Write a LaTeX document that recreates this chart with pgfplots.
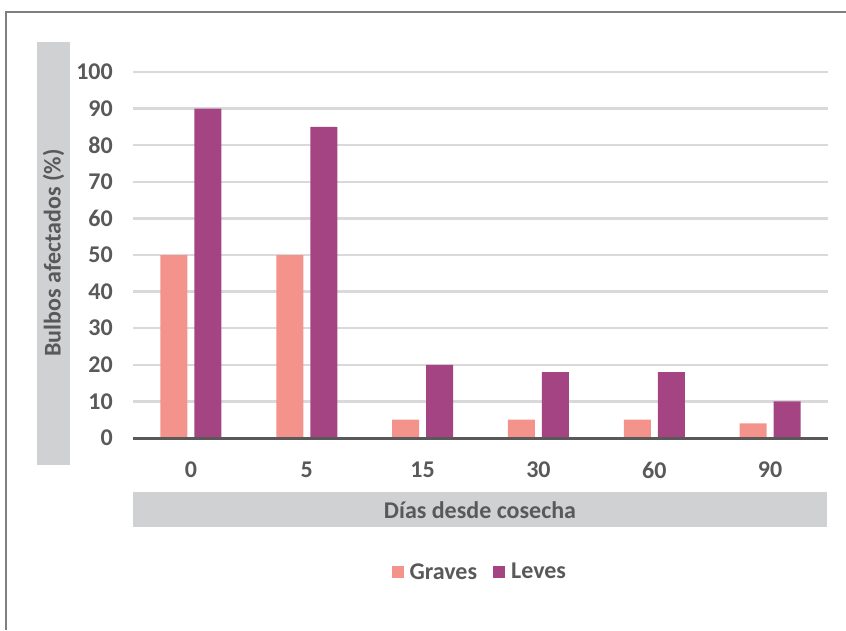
\documentclass[border=0pt]{standalone}
\usepackage{pgfplots}
\pgfplotsset{compat=1.18}
\usepackage{fontspec}
\setmainfont{Carlito}
\definecolor{graves}{HTML}{F4928C}
\definecolor{leves}{HTML}{A54483}
\definecolor{txt}{HTML}{595959}
\definecolor{gridc}{HTML}{D9D9D9}
\definecolor{boxc}{HTML}{D0D1D3}
\definecolor{framec}{HTML}{7F7F7F}
\newcommand{\bigf}{\fontsize{24}{28}\selectfont\bfseries}
\begin{document}
\begin{tikzpicture}
\path[use as bounding box] (0pt,0pt) rectangle (846pt,630pt);
\draw[framec, line width=2pt] (6pt,0pt) -- (6pt,618pt) -- (846pt,618pt);
\fill[boxc] (37pt,165pt) rectangle (70pt,588pt);
\fill[boxc] (133pt,103pt) rectangle (827pt,138pt);
\node[rotate=90, text=txt, font=\bigf] at (53.5pt,377pt) {Bulbos afectados (\%)};
\node[text=txt, font=\bigf] at (480pt,120pt) {Días desde cosecha};
\begin{axis}[
  at={(133pt,192pt)}, anchor=south west,
  scale only axis, width=695pt, height=366pt,
  xmin=-0.5, xmax=5.5, ymin=0, ymax=100,
  ybar=7pt, bar width=27pt,
  axis line style={draw=none},
  major tick length=0pt,
  ytick={0,10,...,100},
  xtick={0,...,5},
  xticklabels={0,5,15,30,60,90},
  ymajorgrids, grid style={gridc, line width=2.5pt},
  /pgf/number format/assume math mode=true,
  yticklabel style={text=txt, font=\bigf, anchor=east, inner sep=0pt, xshift=-20pt},
  xticklabel style={text=txt, font=\bigf, anchor=center, inner sep=0pt, yshift=-32pt},
  legend columns=2,
  legend style={at={(0.499,-0.366)}, anchor=center, draw=none, fill=none,
    font=\bigf, text=txt,
    /tikz/every odd column/.append style={column sep=4pt},
    /tikz/every even column/.append style={column sep=14pt}},
  legend image code/.code={\fill[#1] (0pt,-6pt) rectangle (12pt,6pt);},
  clip=false,
]
\addplot[fill=graves, draw=none] coordinates {(0,50) (1,50) (2,5) (3,5) (4,5) (5,4)};
\addplot[fill=leves, draw=none] coordinates {(0,90) (1,85) (2,20) (3,18) (4,18) (5,10)};
\legend{Graves, Leves}
\draw[txt, line width=3pt] (axis cs:-0.5,0) -- (axis cs:5.5,0);
\end{axis}
\end{tikzpicture}
\end{document}
